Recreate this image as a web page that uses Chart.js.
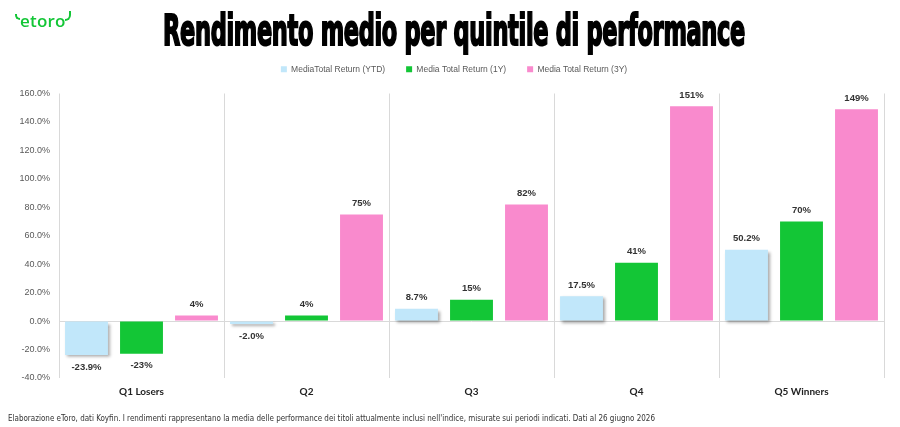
<!DOCTYPE html>
<html>
<head>
<meta charset="utf-8">
<script src="https://cdn.jsdelivr.net/npm/chart.js@4.4.1/dist/chart.umd.min.js"></script>
<style>
    html, body { margin: 0; padding: 0; background: #fff; }
    body { width: 900px; height: 427px; position: relative; overflow: hidden; font-family: "Open Sans", sans-serif; }
    #wrap { position: absolute; left: 0; top: 0; width: 900px; height: 427px; }
    #logo { position: absolute; left: 20px; top: 9px; color: #13c636; font: 600 17px "Open Sans", sans-serif; letter-spacing: 0.2px; }
    .horn { position: absolute; border: 2px solid #13c636; }
    #hornL { left: 15px; top: 14px; width: 3px; height: 4px; border-right: none; border-top: none; border-radius: 0 0 0 5px; }
    #hornR { left: 65px; top: 11px; width: 4px; height: 8px; border-left: none; border-top: none; border-radius: 0 0 6px 0; }
    #title { position: absolute; left: 163px; top: 6px; white-space: nowrap; transform-origin: 0 0;
             font: bold 42px "Liberation Sans Narrow", "DejaVu Sans Condensed", sans-serif; color: #000;
             -webkit-text-stroke: 2px #000; letter-spacing: -0.5px; }
    #note { position: absolute; left: 8px; top: 413px; white-space: nowrap; color: #333; transform-origin: 0 0;
            font: 8.5px "Liberation Sans Narrow", "DejaVu Sans Condensed", sans-serif; }
</style>
</head>
<body>
<div id="wrap"><canvas id="chart" width="900" height="427"></canvas></div>
<div id="logo">etoro</div>
<div class="horn" id="hornL"></div>
<div class="horn" id="hornR"></div>
<div id="title">Rendimento medio per quintile di performance</div>
<div id="note">Elaborazione eToro, dati Koyfin. I rendimenti rappresentano la media delle performance dei titoli attualmente inclusi nell'indice, misurate sui periodi indicati. Dati al 26 giugno 2026</div>
<script>
// ── DATA ──────────────────────────────────────────────────
const categories = ['Q1 Losers', 'Q2', 'Q3', 'Q4', 'Q5 Winners'];
const seriesNames = ['MediaTotal Return (YTD)', 'Media Total Return (1Y)', 'Media Total Return (3Y)'];
const returnYTD = [-23.9, -2.0, 8.7, 17.5, 50.2];
const return1Y = [-23, 4, 15, 41, 70];
const return3Y = [4, 75, 82, 151, 149];
const labelDecimals = [1, 0, 0];
const yMin = -40, yMax = 160, yStep = 20;

const colors = ['#c1e7fa', '#13c636', '#f98acd'];

// fit title and footnote into their boxes
const title = document.getElementById('title');
title.style.transform = 'scaleX(' + (582 / title.getBoundingClientRect().width) + ')';
const note = document.getElementById('note');
note.style.transform = 'scaleX(' + (647 / note.getBoundingClientRect().width) + ')';

// ── PLUGINS ───────────────────────────────────────────────
// extra room under the legend, and legend nudged to the right
const legendTweak = {
    id: 'legendTweak',
    beforeInit(chart) {
        const fit = chart.legend.fit;
        chart.legend.fit = function () {
            fit.call(this);
            this.height += 10;
        };
    },
    afterLayout(chart) {
        chart.legend.left += 24;
    }
};

const barShadow = {
    id: 'barShadow',
    beforeDatasetDraw(chart, args) {
        if (args.index !== 0) return;
        const ctx = chart.ctx;
        ctx.save();
        ctx.shadowColor = 'rgba(0,0,0,0.35)';
        ctx.shadowOffsetX = 2;
        ctx.shadowOffsetY = 2;
        ctx.shadowBlur = 3;
    },
    afterDatasetDraw(chart, args) {
        if (args.index !== 0) return;
        chart.ctx.restore();
    }
};

const valueLabels = {
    id: 'valueLabels',
    afterDatasetsDraw(chart) {
        const ctx = chart.ctx;
        ctx.save();
        ctx.font = 'bold 9.5px "Liberation Sans", Arial, sans-serif';
        ctx.fillStyle = '#333';
        ctx.textAlign = 'center';
        ctx.textBaseline = 'middle';
        chart.data.datasets.forEach((ds, i) => {
            chart.getDatasetMeta(i).data.forEach((bar, j) => {
                const v = ds.data[j];
                const txt = v.toFixed(labelDecimals[i]) + '%';
                const y = v >= 0 ? bar.y - 11 : bar.y + 12;
                ctx.fillText(txt, bar.x, y);
            });
        });
        ctx.restore();
    }
};

// ── CHART ─────────────────────────────────────────────────
new Chart(document.getElementById('chart'), {
    type: 'bar',
    data: {
        labels: categories,
        datasets: [returnYTD, return1Y, return3Y].map((d, i) => ({
            label: seriesNames[i],
            data: d,
            backgroundColor: colors[i],
            borderWidth: 0,
            categoryPercentage: 1.0,
            barPercentage: 0.78
        }))
    },
    options: {
        responsive: false,
        animation: false,
        layout: { padding: { top: 44, right: 16, bottom: 21, left: 0 } },
        plugins: {
            legend: {
                display: true,
                position: 'top',
                labels: {
                    boxWidth: 6, boxHeight: 6, padding: 21,
                    color: '#595959',
                    font: { size: 8.5, family: '"Liberation Sans", Arial, sans-serif' }
                }
            },
            tooltip: { enabled: false }
        },
        scales: {
            x: {
                grid: { color: '#d9d9d9', offset: true, drawTicks: false },
                border: { display: false },
                ticks: { color: '#222', padding: 8, font: { size: 10, weight: 'bold', family: 'Lato, "Liberation Sans", sans-serif' } }
            },
            y: {
                min: yMin,
                max: yMax,
                afterFit: s => { s.width = 59; },
                ticks: {
                    stepSize: yStep,
                    padding: 9,
                    color: '#595959',
                    font: { size: 9, family: '"Liberation Sans", Arial, sans-serif' },
                    callback: v => v.toFixed(1) + '%'
                },
                grid: { drawTicks: false, color: c => c.tick.value === 0 ? '#d9d9d9' : 'rgba(0,0,0,0)' },
                border: { display: false }
            }
        }
    },
    plugins: [legendTweak, barShadow, valueLabels]
});
</script>
</body>
</html>
